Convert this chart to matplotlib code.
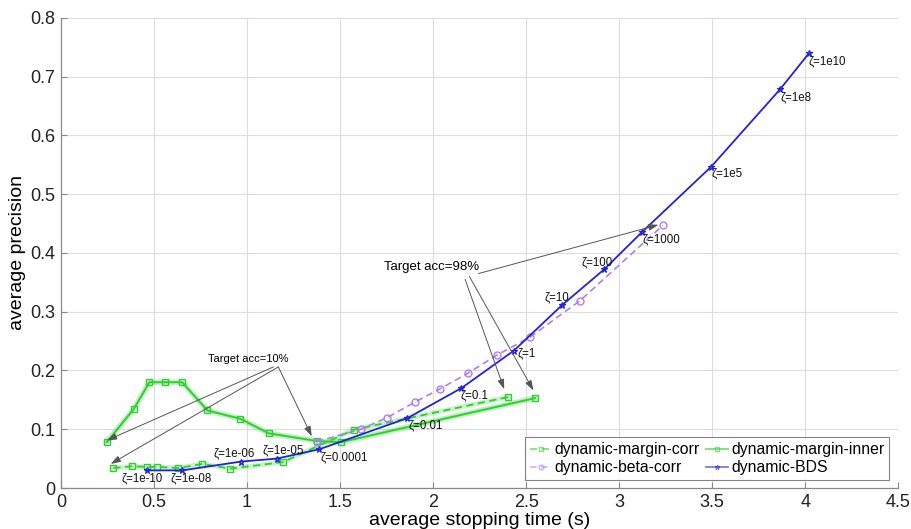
import matplotlib
matplotlib.use("Agg")
import matplotlib.pyplot as plt
from matplotlib.ticker import FixedLocator, FixedFormatter

plt.rcParams['font.family'] = ['Liberation Sans', 'DejaVu Sans']

# ---- data ----
margin_corr_x = [0.281, 0.383, 0.461, 0.518, 0.631, 0.760, 0.909, 1.192, 1.572, 2.405]
margin_corr_y = [0.034, 0.037, 0.036, 0.036, 0.034, 0.041, 0.033, 0.044, 0.099, 0.155]

margin_inner_x = [0.246, 0.392, 0.475, 0.561, 0.651, 0.787, 0.962, 1.117, 1.375, 1.504, 2.548]
margin_inner_y = [0.078, 0.135, 0.180, 0.180, 0.180, 0.132, 0.118, 0.093, 0.080, 0.078, 0.153]

beta_corr_x = [1.375, 1.612, 1.754, 1.901, 2.038, 2.185, 2.342, 2.522, 2.790, 3.235]
beta_corr_y = [0.079, 0.100, 0.120, 0.146, 0.169, 0.195, 0.226, 0.257, 0.319, 0.447]

bds_x = [0.461, 0.652, 0.968, 1.159, 1.389, 1.862, 2.152, 2.435, 2.692, 2.919, 3.124, 3.495, 3.866, 4.020]
bds_y = [0.030, 0.030, 0.045, 0.050, 0.066, 0.119, 0.170, 0.234, 0.311, 0.372, 0.436, 0.547, 0.679, 0.740]
bds_labels = ["ζ=1e-10", "ζ=1e-08", "ζ=1e-06", "ζ=1e-05", "ζ=0.0001", "ζ=0.01", "ζ=0.1",
              "ζ=1", "ζ=10", "ζ=100", "ζ=1000", "ζ=1e5", "ζ=1e8", "ζ=1e10"]
# label offsets (pixels) relative to each BDS point
bds_label_off = [(-25, -8), (-12, -8), (-28, 8), (-14, 8), (1, -8), (1, -7), (-1, -7),
                 (3, -3), (-17, 8), (-23, 7), (0, -7), (0, -7), (0, -8), (0, -8)]

x_ticks = [0, 0.5, 1, 1.5, 2, 2.5, 3, 3.5, 4, 4.5]
x_tick_labels = ["0", "0.5", "1", "1.5", "2", "2.5", "3", "3.5", "4", "4.5"]
y_ticks = [0, 0.1, 0.2, 0.3, 0.4, 0.5, 0.6, 0.7, 0.8]
y_tick_labels = ["0", "0.1", "0.2", "0.3", "0.4", "0.5", "0.6", "0.7", "0.8"]

green = "#2fcf2f"
purple = "#b07ef0"
blue = "#2222dd"

fig = plt.figure(figsize=(9.11, 5.29), dpi=100)
ax = fig.add_axes([0.067, 0.0775, 0.919, 0.8885])

# light halos for green lines
ax.plot(margin_corr_x, margin_corr_y, color=green, lw=3.5, alpha=0.25, zorder=2)
ax.plot(margin_inner_x, margin_inner_y, color=green, lw=4.0, alpha=0.30, zorder=2)

l1, = ax.plot(margin_corr_x, margin_corr_y, color=green, lw=1.3, ls=(0, (4, 2.5)),
              marker='s', ms=4, mfc='none', mew=1.0, zorder=3, label="dynamic-margin-corr")
l2, = ax.plot(margin_inner_x, margin_inner_y, color=green, lw=1.4,
              marker='s', ms=4, mfc='none', mew=1.0, zorder=3, label="dynamic-margin-inner")
l3, = ax.plot(beta_corr_x, beta_corr_y, color=purple, lw=1.2, ls=(0, (4, 2.5)),
              marker='o', ms=5, mfc='none', mew=1.0, zorder=3, label="dynamic-beta-corr")
l4, = ax.plot(bds_x, bds_y, color=blue, lw=1.3, marker='*', ms=5,
              mfc='none', mew=0.9, zorder=4, label="dynamic-BDS")

for x, y, lab, off in zip(bds_x, bds_y, bds_labels, bds_label_off):
    ax.annotate(lab, (x, y), xytext=off, textcoords='offset pixels',
                fontsize=8.3, ha='left', va='center', color='#111111', zorder=5)

arrow_kw = dict(arrowstyle='-|>,head_length=0.6,head_width=0.2', color='#555555',
                lw=0.7, shrinkA=0, shrinkB=0)

ax.text(1.004, 0.220, "Target acc=10%", fontsize=8, ha='center', va='center', zorder=6)
ax.annotate("", xy=(0.246, 0.081), xytext=(1.141, 0.206), arrowprops=arrow_kw, zorder=6)
ax.annotate("", xy=(0.267, 0.041), xytext=(1.168, 0.206), arrowprops=arrow_kw, zorder=6)
ax.annotate("", xy=(1.348, 0.088), xytext=(1.168, 0.206), arrowprops=arrow_kw, zorder=6)

ax.text(1.992, 0.376, "Target acc=98%", fontsize=9.5, ha='center', va='center', zorder=6)
ax.annotate("", xy=(2.382, 0.168), xytext=(2.172, 0.355), arrowprops=arrow_kw, zorder=6)
ax.annotate("", xy=(2.539, 0.166), xytext=(2.195, 0.360), arrowprops=arrow_kw, zorder=6)
ax.annotate("", xy=(3.211, 0.448), xytext=(2.244, 0.365), arrowprops=arrow_kw, zorder=6)

ax.set_xlim(0, 4.5)
ax.set_ylim(0, 0.8)
ax.xaxis.set_major_locator(FixedLocator(x_ticks))
ax.xaxis.set_major_formatter(FixedFormatter(x_tick_labels))
ax.yaxis.set_major_locator(FixedLocator(y_ticks))
ax.yaxis.set_major_formatter(FixedFormatter(y_tick_labels))
ax.tick_params(direction='in', length=4, width=0.8, labelsize=13, colors='#222222', pad=4)
ax.tick_params(axis='both', color='#888888')
ax.grid(True, color='#dddddd', lw=0.8)
ax.set_axisbelow(True)
for s in ['top', 'right']:
    ax.spines[s].set_visible(False)
for s in ['left', 'bottom']:
    ax.spines[s].set_color('#888888')
    ax.spines[s].set_linewidth(0.9)

ax.set_xlabel("average stopping time (s)", fontsize=14, labelpad=1)
ax.set_ylabel("average precision", fontsize=14, labelpad=3)

leg = ax.legend(handles=[l1, l3, l2, l4], ncol=2, loc='lower right',
                bbox_to_anchor=(0.9895, 0.017), fontsize=11.3, frameon=True, fancybox=False,
                handlelength=1.4, handletextpad=0.2, columnspacing=0.4, borderpad=0.3,
                labelspacing=0.2, borderaxespad=0)
leg.get_frame().set_edgecolor('#666666')
leg.get_frame().set_linewidth(0.8)
for h in leg.legend_handles:
    h.set_alpha(0.6)
    h.set_markersize(3.5)

fig.savefig("out.png", dpi=100)
